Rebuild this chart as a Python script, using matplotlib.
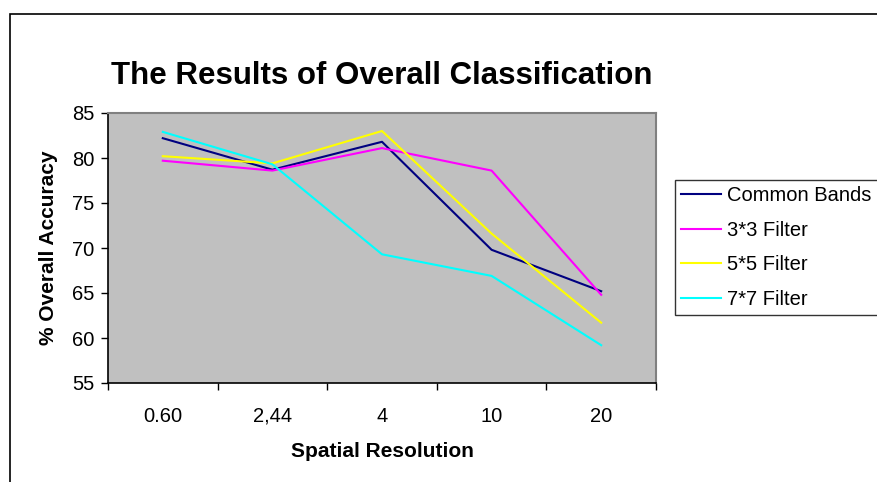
import matplotlib.pyplot as plt
from matplotlib.patches import Rectangle

plt.rcParams['font.family'] = ['Liberation Sans', 'DejaVu Sans']

resolutions = ['0.60', '2,44', '4', '10', '20']
series_names = ['Common Bands', '3*3 Filter', '5*5 Filter', '7*7 Filter']
common_bands = [82.2, 78.7, 81.8, 69.8, 65.2]
filter_3x3 = [79.7, 78.6, 81.1, 78.6, 64.8]
filter_5x5 = [80.2, 79.4, 83.0, 71.6, 61.7]
filter_7x7 = [82.9, 79.3, 69.3, 66.9, 59.2]
colors = ['#000080', '#FF00FF', '#FFFF00', '#00FFFF']

fig = plt.figure(figsize=(8.77, 4.82), dpi=100)
fig.patch.set_facecolor('white')

# outer chart border, running off the right and bottom edges
fig.patches.append(Rectangle((10 / 877, -0.1), 1.0, 1.1 - 14 / 482,
                             transform=fig.transFigure, fill=False,
                             edgecolor='black', linewidth=1.2))

ax = fig.add_axes([108 / 877, 99 / 482, 548 / 877, 270 / 482])
ax.set_facecolor('#C0C0C0')

x = range(len(resolutions))
for vals, name, c in zip([common_bands, filter_3x3, filter_5x5, filter_7x7],
                         series_names, colors):
    ax.plot(x, vals, color=c, linewidth=1.5, label=name)

ax.set_xlim(-0.5, len(resolutions) - 0.5)
ax.set_ylim(55, 85)
ax.set_yticks(range(55, 90, 5))
ax.set_xticks(list(x))
ax.set_xticklabels(resolutions)
ax.set_xticks([i - 0.5 for i in range(len(resolutions) + 1)], minor=True)
ax.tick_params(axis='x', which='major', length=0, pad=17, labelsize=14.5)
ax.tick_params(axis='x', which='minor', length=5, width=1, direction='out')
ax.tick_params(axis='y', length=5, width=1, direction='out', labelsize=14.5, pad=5)

for side in ['top', 'right']:
    ax.spines[side].set_color('#808080')
    ax.spines[side].set_linewidth(1.5)
for side in ['left', 'bottom']:
    ax.spines[side].set_color('black')
    ax.spines[side].set_linewidth(1.2)

ax.set_xlabel('Spatial Resolution', fontsize=15, fontweight='bold', labelpad=12)
ax.set_ylabel('% Overall Accuracy', fontsize=15, fontweight='bold', labelpad=10)
fig.text(382 / 877, 1 - 76 / 482, 'The Results of Overall Classification',
         ha='center', va='center', fontsize=22.5, fontweight='bold')

# legend box is wider than the space left, so its right side runs off the figure
leg = ax.legend(loc='upper left', bbox_to_anchor=(675 / 877, 1 - 180 / 482),
                bbox_transform=fig.transFigure, fontsize=14.5, frameon=True,
                fancybox=False, borderpad=0.3, labelspacing=0.78,
                handlelength=2.0, handletextpad=0.3, borderaxespad=0)
leg.get_frame().set_edgecolor('black')
leg.get_frame().set_linewidth(1.0)

fig.savefig('out.png', dpi=100)
